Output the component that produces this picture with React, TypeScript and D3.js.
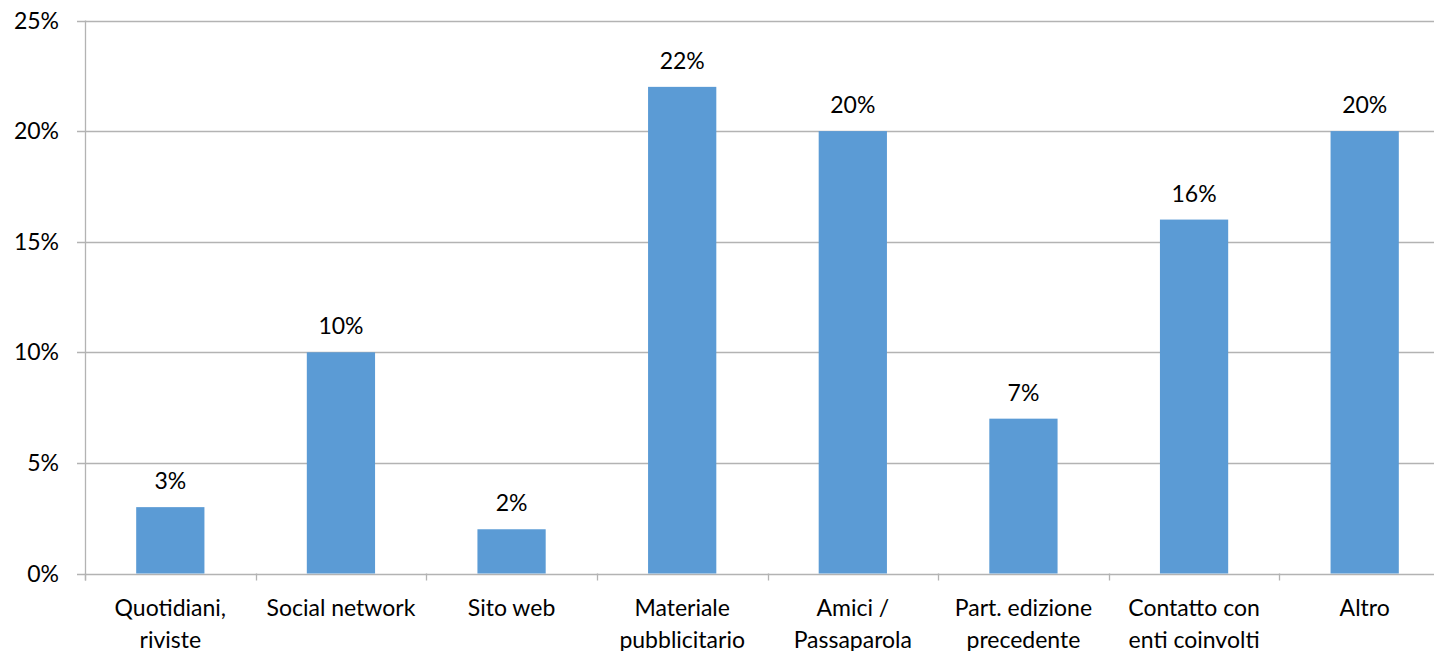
import React, { useEffect, useRef } from "react";
import * as d3 from "d3";

const categories = [
  ["Quotidiani,", "riviste"],
  ["Social network"],
  ["Sito web"],
  ["Materiale", "pubblicitario"],
  ["Amici /", "Passaparola"],
  ["Part. edizione", "precedente"],
  ["Contatto con", "enti coinvolti"],
  ["Altro"],
];
const values = [3, 10, 2, 22, 20, 7, 16, 20];
const yTicks = [0, 5, 10, 15, 20, 25];

const W = 1434;
const H = 651;
const FONT = "Lato, sans-serif";
const FS = 23;

export default function App() {
  const ref = useRef<SVGSVGElement>(null);
  useEffect(() => {
    const svg = d3.select(ref.current);
    svg.selectAll("*").remove();
    const x0 = 85, x1 = 1450, yTop = 20.5, yBot = 573.5;
    const x = d3.scaleBand<number>().domain(d3.range(categories.length)).range([x0, x1]).paddingInner(0.6).paddingOuter(0.3);
    const band = (x1 - x0) / categories.length;
    const y = d3.scaleLinear().domain([0, 25]).range([yBot, yTop]);

    const g = svg.append("g");
    g.selectAll("line.grid").data(yTicks).join("line")
      .attr("x1", 77).attr("x2", W).attr("y1", d => Math.round(y(d)) + 0.5).attr("y2", d => Math.round(y(d)) + 0.5)
      .attr("stroke", "#B3B3B3").attr("stroke-width", 1.3);
    g.append("line").attr("x1", x0 + 0.5).attr("x2", x0 + 0.5).attr("y1", yTop).attr("y2", yBot + 7)
      .attr("stroke", "#B3B3B3").attr("stroke-width", 1.3);
    g.selectAll("line.xt").data(d3.range(categories.length + 1)).join("line")
      .attr("x1", d => Math.round(x0 + d * band) + 0.5).attr("x2", d => Math.round(x0 + d * band) + 0.5)
      .attr("y1", yBot).attr("y2", yBot + 7).attr("stroke", "#B3B3B3").attr("stroke-width", 1.3);
    g.selectAll("text.yl").data(yTicks).join("text")
      .attr("x", 59).attr("y", d => y(d) + 8).attr("text-anchor", "end")
      .attr("font-family", FONT).attr("font-size", FS).attr("fill", "#000")
      .text(d => d + "%");
    g.selectAll("rect.bar").data(values).join("rect")
      .attr("x", (_, i) => x(i)!).attr("width", x.bandwidth())
      .attr("y", d => y(d)).attr("height", d => yBot - y(d))
      .attr("fill", "#5B9BD5");
    g.selectAll("text.vl").data(values).join("text")
      .attr("x", (_, i) => x(i)! + x.bandwidth() / 2).attr("y", d => y(d) - 18)
      .attr("text-anchor", "middle").attr("font-family", FONT).attr("font-size", FS).attr("fill", "#000")
      .text(d => d + "%");
    categories.forEach((lines, i) => {
      const t = g.append("text").attr("text-anchor", "middle").attr("font-family", FONT).attr("font-size", FS).attr("fill", "#000");
      lines.forEach((l, j) => {
        t.append("tspan").attr("x", x(i)! + x.bandwidth() / 2).attr("y", 616 + j * 32).text(l);
      });
    });
  }, []);
  return (
    <svg ref={ref} width={W} height={H} style={{ position: "absolute", left: 0, top: 0, background: "#fff" }} />
  );
}
